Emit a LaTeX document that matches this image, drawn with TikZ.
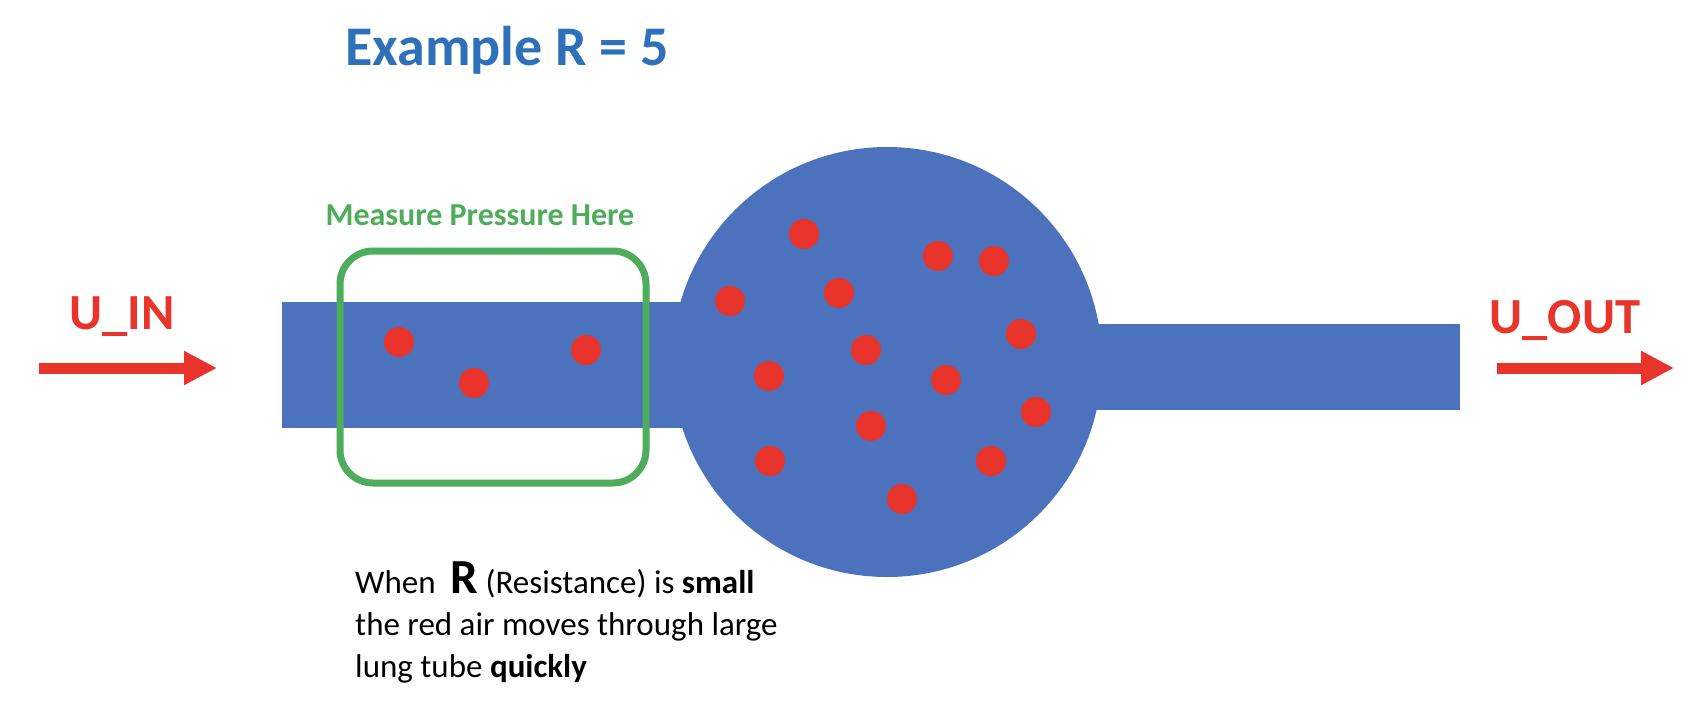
\documentclass[tikz,border=0pt]{standalone}
\usepackage{fontspec}
\setmainfont{Carlito}
\usetikzlibrary{arrows.meta}
\definecolor{lungblue}{HTML}{4C72BD}
\definecolor{airred}{HTML}{E8342A}
\definecolor{boxgreen}{HTML}{4EAD5B}
\definecolor{titleblue}{HTML}{2E70BA}
\tikzset{
  airdot/.style={fill=airred},
  flowarrow/.style={draw=airred, line width=11pt, -{Triangle[length=33pt,width=32pt]}},
  flowlabel/.style={text=airred, font=\fontsize{50.6}{55}\selectfont\bfseries, inner sep=0pt, anchor=base},
  bodyline/.style={inner sep=0pt, anchor=base west, font=\fontsize{33}{40}\selectfont},
}
\begin{document}
\begin{tikzpicture}[x=1pt, y=-1pt]
\useasboundingbox (0,0) rectangle (1706,718);
% title
\node[text=titleblue, font=\fontsize{56}{60}\selectfont\bfseries, inner sep=0pt, anchor=base] (title) at (507,65) {Example R = 5};
% tubes and lung
\fill[lungblue] (282,302) rectangle (700,428);
\fill[lungblue] (1050,324) rectangle (1460,410);
\fill[lungblue] (887,362) circle[radius=215];
% air dots
\foreach \x/\y in {399/342,474/383,586/350,804/234,730/301,839/293,938/256,994/261,1021/334,866/350,769/376,946/380,1036/412,871/426,770/461,991/461,902/499}
  \fill[airdot] (\x,\y) circle[radius=15];
% measuring box
\node[draw=boxgreen, line width=7pt, rounded corners=33pt, minimum width=306pt, minimum height=232pt, inner sep=0pt] (box) at (493,367) {};
\node[text=boxgreen, font=\fontsize{32}{36}\selectfont\bfseries, inner sep=0pt, anchor=base] (boxlabel) at (480,225) {Measure Pressure Here};
% flow labels and arrows
\node[flowlabel] (uin) at (122,329) {U\_IN};
\node[flowlabel] (uout) at (1565,333) {U\_OUT};
\coordinate (inA) at (39,368);
\coordinate (inB) at (217,368);
\coordinate (outA) at (1497,368);
\coordinate (outB) at (1674,368);
\draw[flowarrow] (inA) -- (inB);
\draw[flowarrow] (outA) -- (outB);
% explanation
\node[bodyline] (line1) at (355,593) {When\ \ {\fontsize{49}{49}\selectfont\bfseries R} (Resistance) is \textbf{small}};
\node[bodyline] (line2) at (355,635) {the red air moves through large};
\node[bodyline] (line3) at (355,677) {lung tube \textbf{quickly}};
\end{tikzpicture}
\end{document}
